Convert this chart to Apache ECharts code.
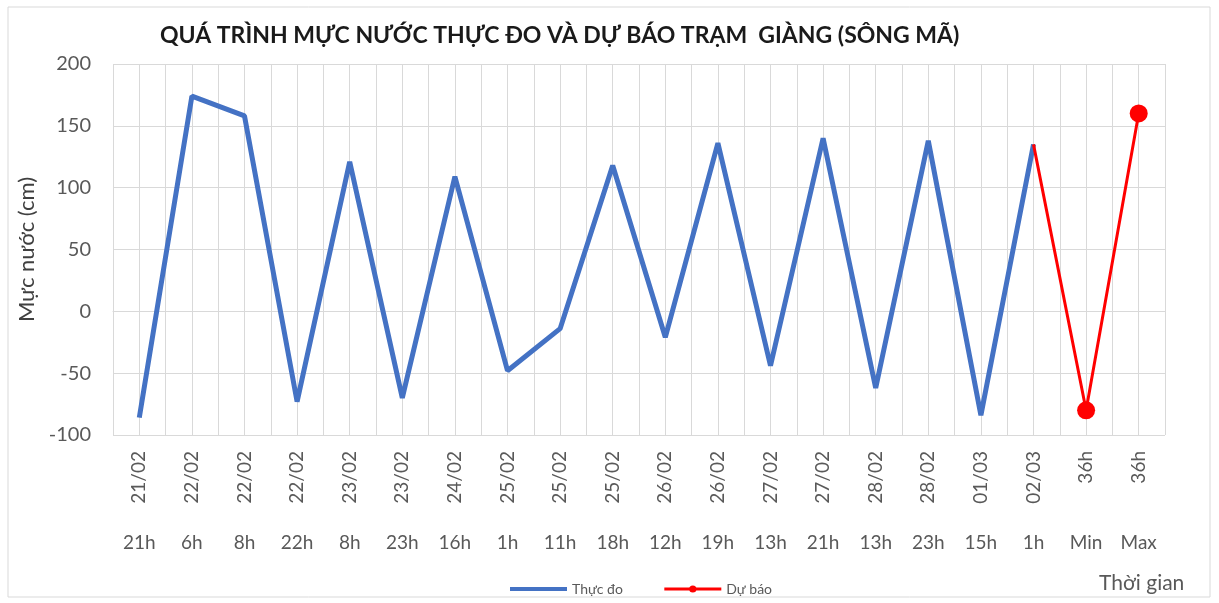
<!DOCTYPE html>
<html lang="vi">
<head>
    <meta charset="UTF-8">
    <title>Mực nước trạm Giàng</title>
    <script src="https://cdn.jsdelivr.net/npm/echarts@6.0.0/dist/echarts.min.js"></script>
    <style>
        body { margin: 0; background: #fff; }
    </style>
</head>
<body>
    <div id="main" style="width: 1219px;height:603px;"></div>
    <script type="text/javascript">
        // ngày / giờ của từng mốc
        const dates = ['21/02', '22/02', '22/02', '22/02', '23/02', '23/02', '24/02', '25/02', '25/02', '25/02',
            '26/02', '26/02', '27/02', '27/02', '28/02', '28/02', '01/03', '02/03', '36h', '36h'];
        const hours = ['21h', '6h', '8h', '22h', '8h', '23h', '16h', '1h', '11h', '18h',
            '12h', '19h', '13h', '21h', '13h', '23h', '15h', '1h', 'Min', 'Max'];

        // mực nước (cm)
        const thucDo = [-86, 174, 158, -73, 121, -70, 109, -48, -14, 118,
            -21, 136, -44, 140, -62, 138, -84, 135, null, null];
        const duBao = [null, null, null, null, null, null, null, null, null, null,
            null, null, null, null, null, null, null, 135, -80, 160];

        const yTicks = { min: -100, max: 200, step: 50 };

        const font = 'Lato, "Open Sans", sans-serif';
        const gridColor = '#d9d9d9';

        let myChart = echarts.init(document.getElementById('main'));

        let options = {
            textStyle: { fontFamily: font },
            title: {
                text: 'QUÁ TRÌNH MỰC NƯỚC THỰC ĐO VÀ DỰ BÁO TRẠM  GIÀNG (SÔNG MÃ)',
                left: 155,
                top: 19,
                textStyle: { fontFamily: font, fontSize: 23, fontWeight: 'bold', color: '#1a1a1a' }
            },
            legend: {
                left: 503,
                top: 577,
                itemWidth: 57,
                itemHeight: 9,
                itemGap: 40,
                textStyle: { fontFamily: font, fontSize: 14, color: '#595959' },
                data: [
                    { name: 'Thực đo', itemStyle: { opacity: 0 }, lineStyle: { width: 4 } },
                    { name: 'Dự báo', lineStyle: { width: 3 } }
                ]
            },
            grid: { left: 113, right: 54, top: 64, bottom: 168 },
            xAxis: [
                {
                    type: 'category',
                    data: dates,
                    boundaryGap: true,
                    axisLine: { lineStyle: { color: gridColor } },
                    axisTick: { show: true, interval: 0, length: 120, lineStyle: { color: gridColor } },
                    axisLabel: { interval: 0, rotate: 90, margin: 16, fontSize: 19, color: '#595959', fontFamily: font },
                    splitLine: { show: false }
                },
                {
                    type: 'category',
                    data: hours,
                    position: 'bottom',
                    boundaryGap: true,
                    axisLine: { show: false },
                    axisTick: { show: false },
                    axisLabel: { interval: 0, margin: 98, fontSize: 19, color: '#595959', fontFamily: font },
                    name: 'Thời gian',
                    nameLocation: 'end',
                    nameGap: 0,
                    nameTextStyle: { fontSize: 21, color: '#595959', fontFamily: font, padding: [138, 0, 0, -66], verticalAlign: 'top' }
                },
                {
                    // lưới dọc mỗi nửa khoảng
                    type: 'value',
                    min: 0,
                    max: dates.length * 2,
                    interval: 1,
                    show: true,
                    axisLine: { show: false },
                    axisTick: { show: false },
                    axisLabel: { show: false },
                    splitLine: { show: true, lineStyle: { color: gridColor, width: 1 } }
                }
            ],
            yAxis: {
                type: 'value',
                min: yTicks.min,
                max: yTicks.max,
                interval: yTicks.step,
                axisLine: { show: false },
                axisTick: { show: false },
                axisLabel: { fontSize: 20, color: '#595959', margin: 22, fontFamily: font },
                splitLine: { lineStyle: { color: gridColor } },
                name: 'Mực nước (cm)',
                nameLocation: 'middle',
                nameGap: 66,
                nameTextStyle: { fontSize: 22, color: '#404040', fontFamily: font }
            },
            series: [
                {
                    name: 'Thực đo',
                    type: 'line',
                    data: thucDo,
                    symbol: 'none',
                    color: '#4472C4',
                    lineStyle: { width: 5, color: '#4472C4' },
                    z: 3
                },
                {
                    name: 'Dự báo',
                    type: 'line',
                    data: duBao.map((v, i) => (v !== null && i > 17) ? { value: v, symbolSize: 18 } : v),
                    symbol: 'circle',
                    symbolSize: 0,
                    showSymbol: true,
                    color: '#FF0000',
                    lineStyle: { width: 3, color: '#FF0000' },
                    itemStyle: { color: '#FF0000' },
                    z: 4
                }
            ],
            graphic: [{
                type: 'rect',
                shape: { x: 8, y: 7, width: 1202, height: 590 },
                style: { fill: 'none', stroke: gridColor, lineWidth: 1 },
                silent: true
            }]
        };

        myChart.setOption(options);
    </script>
</body>
</html>
